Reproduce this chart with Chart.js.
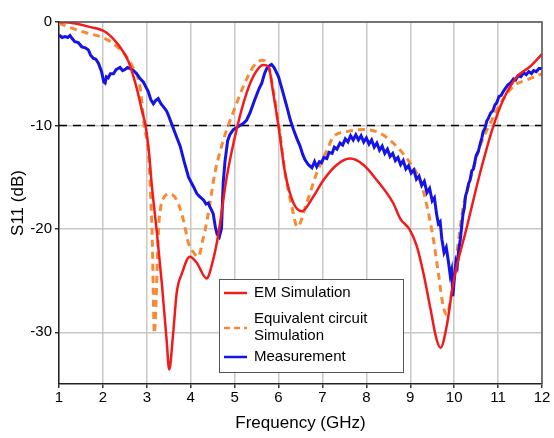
<!DOCTYPE html>
<html lang="en">
<head>
    <meta charset="UTF-8">
    <title>S11 vs Frequency</title>
    <script src="https://cdn.jsdelivr.net/npm/chart.js"></script>
    <style>
        body {
            margin: 0;
            background: #ffffff;
        }
        .chart-box {
            position: relative;
            width: 554px;
            height: 438px;
        }
    </style>
</head>
<body>
    <div class="chart-box">
        <canvas id="s11Chart"></canvas>
    </div>

    <script>
        // EM simulation
        const emFreq = [1, 1.3, 1.67, 2.05, 2.35, 2.58, 2.77, 2.88, 2.97, 3.05, 3.11, 3.23, 3.34, 3.45, 3.51, 3.6, 3.68, 3.8, 3.98, 4.14, 4.36, 4.51, 4.63, 4.82, 5.05, 5.27, 5.46, 5.65, 5.77, 5.88, 6.0, 6.15, 6.34, 6.53, 6.79, 7.02, 7.33, 7.63, 7.93, 8.24, 8.61, 8.77, 8.99, 9.15, 9.3, 9.45, 9.6, 9.69, 9.83, 9.98, 10.29, 10.59, 10.89, 11.12, 11.43, 11.73, 12];
        const emS11 = [0, -0.1, -0.45, -0.94, -2.2, -3.8, -6.4, -8.4, -10.0, -12.6, -15.6, -20.4, -25.2, -30.7, -33.6, -30.1, -26.2, -24.3, -22.7, -23.3, -24.8, -23.0, -20.5, -15.0, -10.3, -6.9, -5.0, -4.15, -4.3, -6.9, -10.1, -14.6, -17.5, -18.3, -16.9, -15.3, -13.8, -13.2, -13.8, -15.3, -17.5, -19.0, -20.1, -21.7, -24.3, -27.5, -30.7, -31.5, -29.4, -25.2, -19.8, -14.6, -10.1, -7.5, -5.3, -4.3, -3.1];

        // equivalent circuit simulation
        const eqFreq = [1, 1.29, 1.67, 2.05, 2.35, 2.66, 2.85, 2.94, 3.03, 3.09, 3.13, 3.15, 3.17, 3.21, 3.24, 3.27, 3.32, 3.4, 3.51, 3.68, 3.83, 3.95, 4.07, 4.17, 4.28, 4.38, 4.55, 4.67, 4.82, 4.97, 5.2, 5.43, 5.62, 5.77, 5.88, 6.03, 6.15, 6.3, 6.43, 6.64, 6.87, 7.1, 7.25, 7.55, 7.97, 8.31, 8.61, 8.92, 9.22, 9.38, 9.53, 9.64, 9.75, 9.83, 9.94, 10.06, 10.21, 10.36, 10.59, 10.82, 11.05, 11.35, 11.65, 12];
        const eqS11 = [-0.1, -0.6, -1.1, -1.6, -2.5, -4.2, -6.4, -10.0, -12.4, -17.0, -22.0, -26.9, -30.1, -27.0, -23.0, -19.8, -17.8, -16.9, -16.6, -17.2, -19.1, -21.4, -22.3, -22.7, -21.0, -19.0, -14.6, -12.5, -10.4, -8.7, -6.2, -4.3, -3.7, -4.3, -6.6, -10.75, -14.6, -17.8, -19.8, -17.5, -14.6, -12.4, -11.1, -10.6, -10.4, -10.75, -11.7, -13.2, -15.3, -17.8, -21.1, -24.3, -27.5, -28.3, -26.2, -22.4, -17.8, -15.3, -12.0, -9.8, -7.9, -6.2, -5.6, -5.0];

        const measFreq = [1.0, 1.07, 1.14, 1.2, 1.25, 1.3, 1.36, 1.44, 1.52, 1.6, 1.67, 1.72, 1.78, 1.84, 1.9, 1.97, 2.02, 2.05, 2.08, 2.12, 2.17, 2.24, 2.3, 2.39, 2.45, 2.5, 2.56, 2.62, 2.7, 2.77, 2.85, 2.92, 2.98, 3.03, 3.09, 3.15, 3.2, 3.26, 3.32, 3.38, 3.45, 3.49, 3.57, 3.65, 3.76, 3.85, 3.95, 4.06, 4.14, 4.21, 4.29, 4.35, 4.4, 4.44, 4.51, 4.56, 4.6, 4.65, 4.7, 4.74, 4.78, 4.84, 4.89, 4.97, 5.05, 5.12, 5.2, 5.27, 5.35, 5.46, 5.55, 5.62, 5.68, 5.73, 5.8, 5.84, 5.9, 6.0, 6.1, 6.19, 6.27, 6.34, 6.42, 6.49, 6.55, 6.6,
            6.68, 6.76, 6.82, 6.87, 6.93, 6.98, 7.03, 7.1, 7.15, 7.22, 7.27, 7.33, 7.4, 7.46, 7.52, 7.58, 7.64, 7.7, 7.76, 7.82, 7.88, 7.94, 8.0, 8.06, 8.12, 8.18, 8.24, 8.3, 8.36, 8.42, 8.48, 8.54, 8.6, 8.66, 8.72, 8.78, 8.84, 8.9, 8.96, 9.02, 9.08, 9.14, 9.2, 9.26, 9.32, 9.38, 9.44, 9.5, 9.55, 9.6, 9.64, 9.68, 9.72, 9.77, 9.82, 9.87, 9.91, 9.94, 9.97, 10.0, 10.04, 10.07, 10.1, 10.14, 10.17, 10.2, 10.23, 10.26, 10.29, 10.33, 10.36, 10.4, 10.44, 10.5, 10.55, 10.59, 10.63, 10.66, 10.7, 10.74, 10.78, 10.83, 10.88, 10.93, 10.97, 11.02, 11.07, 11.12, 11.17, 11.22, 11.28, 11.35, 11.4, 11.45, 11.52, 11.58, 11.64, 11.7, 11.76, 11.81, 11.87, 11.93, 12.0];
        const measS11 = [-1.25, -1.5, -1.4, -1.5, -1.3, -1.6, -1.9, -2.0, -2.4, -2.5, -2.7, -3.2, -3.5, -3.6, -4.0, -4.8, -5.8, -5.9, -5.3, -5.4, -5.0, -5.0, -4.6, -4.4, -4.7, -4.6, -4.4, -4.5, -4.7, -5.0, -5.5, -5.8, -6.3, -6.7, -7.5, -7.9, -7.6, -7.4, -7.9, -8.2, -8.6, -9.0, -9.9, -10.8, -12.0, -13.5, -15.0, -15.9, -16.6, -16.9, -17.2, -17.6, -17.5, -17.9, -18.5, -19.8, -20.5, -20.8, -20.0, -15.5, -13.5, -11.5, -10.9, -10.4, -10.2, -10.0, -9.8, -9.5, -8.8, -7.5, -6.5, -5.9, -5.0, -4.5, -4.2, -4.1, -4.4, -5.3, -6.8, -8.2, -9.5, -10.4, -11.3, -12.0, -12.8, -13.3,
            -13.8, -14.1, -13.5, -14.0, -13.5, -13.6, -13.1, -13.2, -12.6, -12.7, -12.1, -12.3, -11.7, -11.9, -11.3, -11.6, -11.0, -11.4, -10.9, -11.4, -11.0, -11.6, -11.2, -11.8, -11.4, -12.1, -11.7, -12.4, -12.0, -12.7, -12.3, -13.0, -12.7, -13.4, -13.1, -13.8, -13.4, -14.2, -13.9, -14.6, -14.3, -15.2, -14.9, -15.8, -15.4, -16.5, -16.1, -17.3, -17.0, -18.6, -19.5, -19.3, -21.0, -22.3, -21.8, -23.2, -24.5, -24.0, -26.5, -25.0, -23.2, -23.6, -22.2, -21.0, -19.8, -18.6, -18.0, -16.8, -16.4, -15.6, -15.3, -14.4, -14.2, -12.9, -12.5, -11.8, -11.2, -10.6, -10.3, -9.6, -9.3, -8.8, -8.6, -8.0, -7.8, -7.2, -7.1, -6.7, -6.4, -6.1, -5.9, -5.5, -5.6, -5.2, -5.3, -4.9, -5.1, -4.8, -5.0, -4.7, -4.8, -4.5, -4.5];

        // -10 dB reference line and axis ticks
        const refFreq = [1, 12];
        const refS11 = [-10, -10];
        const xTicks = [1, 2, 3, 4, 5, 6, 7, 8, 9, 10, 11, 12];
        const yTicks = [0, -10, -20, -30];

        const pts = (xs, ys) => xs.map((x, i) => ({ x: x, y: ys[i] }));
        const FONT = "'Liberation Sans', Arial, sans-serif";

        const legendItems = [
            { label: ['EM Simulation'], color: '#f21b1b', dash: [] },
            { label: ['Equivalent circuit', 'Simulation'], color: '#f98a35', dash: [6, 4] },
            { label: ['Measurement'], color: '#1414e6', dash: [] }
        ];

        // frame + boxed legend inside the plot
        const framePlugin = {
            id: 'frameAndLegend',
            afterDraw(chart) {
                const ctx = chart.ctx;
                const a = chart.chartArea;
                ctx.save();
                ctx.strokeStyle = '#555555';
                ctx.lineWidth = 1.5;
                ctx.beginPath();
                ctx.moveTo(a.left, a.top);
                ctx.lineTo(a.right, a.top);
                ctx.lineTo(a.right, a.bottom);
                ctx.stroke();

                // legend box
                const bx = 219, by = 279, bw = 184, bh = 93;
                ctx.fillStyle = '#ffffff';
                ctx.fillRect(bx, by, bw, bh);
                ctx.strokeStyle = '#555555';
                ctx.lineWidth = 1;
                ctx.strokeRect(bx + 0.5, by + 0.5, bw, bh);

                const rows = [293, 328, 357];
                ctx.font = '15px ' + FONT;
                ctx.textBaseline = 'middle';
                legendItems.forEach((item, i) => {
                    const y = rows[i];
                    ctx.strokeStyle = item.color;
                    ctx.lineWidth = 2.5;
                    ctx.setLineDash(item.dash);
                    ctx.beginPath();
                    ctx.moveTo(224, y);
                    ctx.lineTo(247, y);
                    ctx.stroke();
                    ctx.setLineDash([]);
                    ctx.fillStyle = '#000000';
                    if (item.label.length === 1) {
                        ctx.fillText(item.label[0], 254, y);
                    } else {
                        ctx.fillText(item.label[0], 254, y - 9);
                        ctx.fillText(item.label[1], 254, y + 8);
                    }
                });
                ctx.restore();
            }
        };

        new Chart(document.getElementById('s11Chart'), {
            type: 'line',
            data: {
                datasets: [
                    {
                        label: 'EM Simulation',
                        data: pts(emFreq, emS11),
                        borderColor: '#f21b1b',
                        borderWidth: 2.5,
                        pointRadius: 0,
                        cubicInterpolationMode: 'monotone'
                    },
                    {
                        label: 'Measurement',
                        data: pts(measFreq, measS11),
                        borderColor: '#1414e6',
                        borderWidth: 3,
                        pointRadius: 0,
                        tension: 0
                    },
                    {
                        label: 'Equivalent circuit Simulation',
                        data: pts(eqFreq, eqS11),
                        borderColor: '#f98a35',
                        borderWidth: 3,
                        borderDash: [7, 5],
                        pointRadius: 0,
                        cubicInterpolationMode: 'monotone'
                    },
                    {
                        label: '-10 dB',
                        data: pts(refFreq, refS11),
                        borderColor: '#000000',
                        borderWidth: 1.5,
                        borderDash: [8, 6],
                        pointRadius: 0
                    }
                ]
            },
            options: {
                responsive: true,
                maintainAspectRatio: false,
                animation: false,
                layout: {
                    padding: { top: 22, right: 12, left: 0, bottom: 0 }
                },
                plugins: {
                    legend: { display: false },
                    tooltip: { enabled: false }
                },
                scales: {
                    x: {
                        type: 'linear',
                        min: 1,
                        max: 12,
                        afterBuildTicks: s => { s.ticks = xTicks.map(v => ({ value: v })); },
                        afterFit: s => { s.height = 54; },
                        ticks: {
                            color: '#000000',
                            font: { family: FONT, size: 15 },
                            padding: 1
                        },
                        grid: {
                            color: '#c8c8c8',
                            lineWidth: 1.5,
                            tickLength: 4,
                            tickColor: '#333333'
                        },
                        border: { color: '#222222', width: 1.5 },
                        title: {
                            display: true,
                            text: 'Frequency (GHz)',
                            color: '#000000',
                            font: { family: FONT, size: 17 },
                            padding: { top: 2, bottom: 4 }
                        }
                    },
                    y: {
                        min: -35,
                        max: 0,
                        afterBuildTicks: s => { s.ticks = yTicks.map(v => ({ value: v })); },
                        afterFit: s => { s.width = 59; },
                        ticks: {
                            color: '#000000',
                            font: { family: FONT, size: 15 },
                            padding: 3
                        },
                        grid: {
                            color: '#c8c8c8',
                            lineWidth: 1.5,
                            tickLength: 4,
                            tickColor: '#333333'
                        },
                        border: { color: '#222222', width: 1.5 },
                        title: {
                            display: true,
                            text: 'S11 (dB)',
                            color: '#000000',
                            font: { family: FONT, size: 17 },
                            padding: { top: 8, bottom: 4 }
                        }
                    }
                }
            },
            plugins: [framePlugin]
        });
    </script>
</body>
</html>
